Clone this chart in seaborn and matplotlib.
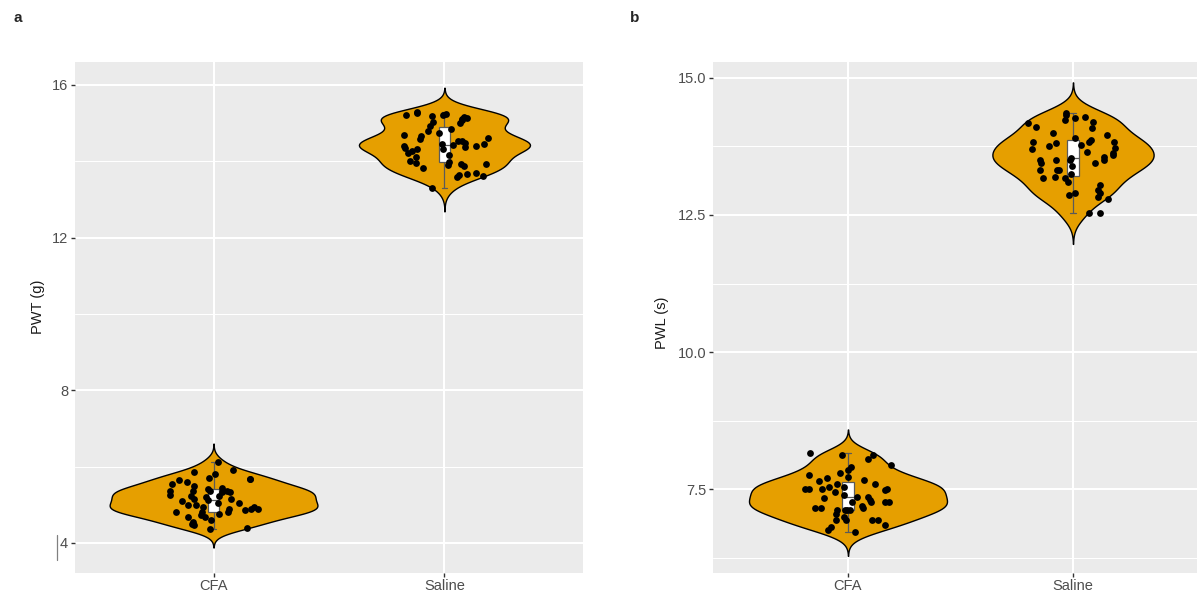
import numpy as np
import pandas as pd
import seaborn as sns
import matplotlib.pyplot as plt
from matplotlib.ticker import MultipleLocator, FormatStrFormatter
from matplotlib.lines import Line2D

groups = ["CFA", "Saline"]

# Paw withdrawal threshold (g)
pwt_cfa = [6.11, 5.90, 5.85, 5.80, 5.67, 5.67, 5.64, 5.59, 5.54, 5.41, 5.37, 5.37,
           5.37, 5.37, 5.33, 5.33, 5.25, 5.24, 5.24, 5.20, 5.15, 5.15, 5.11, 5.10,
           5.05, 5.05, 5.00, 4.98, 4.94, 4.94, 4.89, 4.89, 4.89, 4.85, 4.81, 4.81,
           4.81, 4.76, 4.72, 4.68, 4.68, 4.60, 4.50, 4.46, 4.37, 4.40, 5.45, 5.50,
           4.55, 5.70]
pwt_saline = [15.30, 15.26, 15.24, 15.22, 15.20, 15.18, 15.16, 15.13, 15.10, 15.08,
              15.04, 15.00, 14.91, 14.85, 14.78, 14.74, 14.70, 14.65, 14.61, 14.57,
              14.54, 14.52, 14.48, 14.44, 14.42, 14.39, 14.35, 14.31, 14.26, 14.22,
              14.00, 13.98, 13.96, 13.94, 13.92, 13.90, 13.87, 13.82, 14.46, 14.40,
              14.37, 14.33, 13.70, 13.66, 13.63, 13.61, 13.58, 13.31, 14.15, 14.10]

# Paw withdrawal latency (s)
pwl_cfa = [8.15, 8.12, 8.12, 8.05, 7.94, 7.91, 7.85, 7.76, 7.70, 7.72, 7.66, 7.60,
           7.60, 7.51, 7.54, 7.48, 7.51, 7.54, 7.51, 7.51, 7.36, 7.27, 7.33, 7.27,
           7.27, 7.15, 7.12, 7.27, 7.15, 7.12, 7.15, 7.12, 7.12, 6.93, 6.93, 6.93,
           6.93, 6.81, 6.72, 6.75, 7.40, 7.45, 7.20, 7.05, 7.00, 7.35, 7.80, 6.85,
           7.65, 7.30]
pwl_saline = [14.36, 14.32, 14.29, 14.26, 14.23, 14.17, 14.11, 14.08, 13.90, 13.87,
              13.84, 13.84, 13.84, 13.81, 13.78, 13.75, 13.72, 13.63, 13.56, 13.53,
              13.50, 13.50, 13.50, 13.50, 13.44, 13.40, 13.32, 13.32, 13.32, 13.20,
              13.17, 13.17, 13.11, 12.96, 12.90, 12.90, 12.86, 12.83, 12.80, 12.53,
              12.53, 13.60, 13.70, 13.95, 14.00, 13.25, 13.05, 14.20, 13.45, 13.65]

sns.set_theme(style="darkgrid")
plt.rcParams["font.family"] = ["Liberation Sans", "DejaVu Sans"]

W, H = 1197, 599
fig = plt.figure(figsize=(W / 100, H / 100), dpi=100)
ax_a = fig.add_axes([75 / W, 1 - 573 / H, (583 - 75) / W, (573 - 62) / H])
ax_b = fig.add_axes([713 / W, 1 - 573 / H, (1208 - 713) / W, (573 - 62) / H])

FILL = "#E69F00"


def panel(ax, cfa, saline, ylabel, ylim, major, minor, fmt, width, seed, label_xy):
    df = pd.DataFrame({
        "group": ["CFA"] * len(cfa) + ["Saline"] * len(saline),
        "value": list(cfa) + list(saline),
    })
    sns.violinplot(data=df, x="group", y="value", order=groups, color=FILL,
                   saturation=1, inner=None, cut=3, bw_adjust=0.85, width=width,
                   linecolor="black", linewidth=1.0, ax=ax)
    sns.boxplot(data=df, x="group", y="value", order=groups, width=0.05,
                color="white", saturation=1, linecolor="#5a5a5a", linewidth=0.9,
                fliersize=3.5,
                flierprops=dict(marker="o", markerfacecolor="#808080",
                                markeredgecolor="#808080"),
                ax=ax)
    np.random.seed(seed)
    sns.stripplot(data=df, x="group", y="value", order=groups, color="black",
                  size=4.9, jitter=0.2, ax=ax)

    ax.set_xlim(-0.6, 1.6)
    ax.set_ylim(*ylim)
    ax.set_facecolor("#EBEBEB")
    ax.set_axisbelow(True)
    ax.yaxis.set_major_locator(MultipleLocator(major))
    ax.yaxis.set_minor_locator(MultipleLocator(minor))
    ax.yaxis.set_major_formatter(FormatStrFormatter(fmt))
    ax.grid(True, which="major", color="white", linewidth=1.5)
    ax.grid(True, which="minor", axis="y", color="white", linewidth=0.75)
    for s in ax.spines.values():
        s.set_visible(False)
    ax.tick_params(which="major", length=3, width=1.0, color="#333333",
                   labelcolor="#4D4D4D", labelsize=10.5, pad=2,
                   left=True, bottom=True)
    ax.tick_params(axis="x", which="major", pad=1)
    ax.tick_params(which="minor", length=0)
    ax.set_xlabel("")
    ax.set_ylabel(ylabel, fontsize=10.5, color="#1A1A1A")
    ax.yaxis.set_label_coords(*label_xy)


panel(ax_a, pwt_cfa, pwt_saline, "PWT (g)", (3.21, 16.6), 4, 2, "%g",
      0.9, 3, (-0.059, 0.52))
panel(ax_b, pwl_cfa, pwl_saline, "PWL (s)", (5.97, 15.29), 2.5, 1.25, "%.1f",
      0.88, 7, (-0.089, 0.49))

fig.text(14 / W, 1 - 18 / H, "a", fontsize=11, fontweight="bold", va="center")
fig.text(630 / W, 1 - 18 / H, "b", fontsize=11, fontweight="bold", va="center")

# thin mark beside the lowest tick label of the left panel
fig.add_artist(Line2D([57 / W, 57 / W], [1 - 535 / H, 1 - 560 / H],
                      color="#808080", linewidth=0.9))

fig.savefig("out.png", dpi=100)
